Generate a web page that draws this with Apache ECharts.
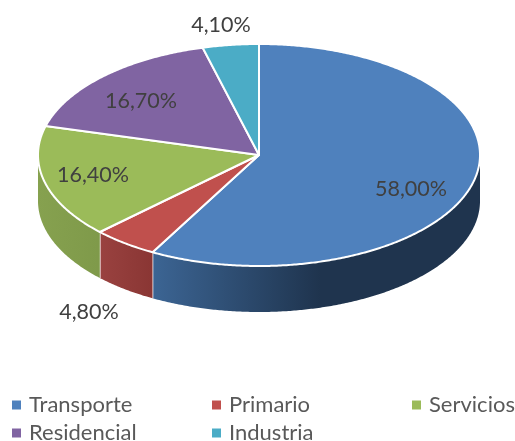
<!DOCTYPE html>
<html lang="es">
<head>
<meta charset="UTF-8">
<title>Consumo por sector</title>
<script src="https://cdn.jsdelivr.net/npm/echarts@6/dist/echarts.min.js"></script>
<style>
	html,body{margin:0;padding:0;width:100%;height:100%;background:#fff;}
	#chart{width:515px;height:441px;}
</style>
</head>
<body>
<div id="chart"></div>
<script>
	var categories = ['Transporte', 'Primario', 'Servicios', 'Residencial', 'Industria'];
	var shares = [58.0, 4.8, 16.4, 16.7, 4.1];

	var colors = ['#4f81bd', '#c0504d', '#9bbb59', '#8064a2', '#4bacc6'];
	// side wall shading, left colour / right colour
	var wallColors = [
		['#3c6594', '#1f344e', 152, 320],
		['#9a4240', '#8a3634', 98, 152],
		['#86a14f', '#7f9a4a', 38, 98],
		['#5f4a7a', '#5f4a7a', 0, 515],
		['#38819a', '#38819a', 0, 515]
	];
	// hand placed labels, same as the original chart
	var labelAt = [[411, 189], [89, 312], [93, 175], [141, 101], [221, 25]];

	var cx = 259, cy = 155, rx = 221, ry = 111, depth = 46;
	var font = 'Lato, "Open Sans", sans-serif';

	function pointAt(deg, dy) {
		var a = deg * Math.PI / 180;
		return [cx + rx * Math.sin(a), cy - ry * Math.cos(a) + (dy || 0)];
	}

	function arcPoints(from, to, dy) {
		var pts = [];
		var n = Math.max(2, Math.ceil((to - from) * 2));
		for (var i = 0; i <= n; i++) {
			pts.push(pointAt(from + (to - from) * i / n, dy));
		}
		return pts;
	}

	function renderSlice(params, api) {
		var idx = params.seriesIndex;
		var before = 0;
		for (var i = 0; i < idx; i++) before += shares[i];
		var start = before * 3.6;
		var end = start + api.value(0) * 3.6;
		var children = [];

		// only the front half of the rim has a visible wall
		var wallFrom = Math.max(start, 90), wallTo = Math.min(end, 270);
		if (wallTo > wallFrom) {
			var wc = wallColors[idx];
			children.push({
				type: 'polygon',
				shape: {points: arcPoints(wallFrom, wallTo, 0).concat(arcPoints(wallFrom, wallTo, depth).reverse())},
				style: {
					fill: {type: 'linear', x: wc[2], y: 0, x2: wc[3], y2: 0, global: true,
						colorStops: [{offset: 0, color: wc[0]}, {offset: 1, color: wc[1]}]},
					stroke: null
				}
			});
			// white seam between two walls
			if (wallTo < 270) {
				var p = pointAt(wallTo, 0);
				children.push({
					type: 'line',
					shape: {x1: p[0], y1: p[1], x2: p[0], y2: p[1] + depth},
					style: {stroke: '#fff', lineWidth: 1.5}
				});
			}
		}

		children.push({
			type: 'polygon',
			shape: {points: [[cx, cy]].concat(arcPoints(start, end, 0))},
			style: {fill: colors[idx], stroke: '#fff', lineWidth: 2, lineJoin: 'round'}
		});

		children.push({
			type: 'text',
			z2: 10,
			style: {
				x: labelAt[idx][0],
				y: labelAt[idx][1],
				text: api.value(0).toFixed(2).replace('.', ',') + '%',
				fill: '#404040',
				font: '21.5px ' + font,
				align: 'center',
				verticalAlign: 'middle'
			}
		});
		return {type: 'group', children: children};
	}

	var legendLeft = [7, 207, 407];
	var legends = [], series = [];
	for (var i = 0; i < categories.length; i++) {
		legends.push({
			data: [categories[i]],
			left: legendLeft[i % 3],
			top: i < 3 ? 389 : 417,
			icon: 'rect',
			itemWidth: 9,
			itemHeight: 9,
			selectedMode: false,
			textStyle: {color: '#595959', fontFamily: font, fontSize: 22, padding: [0, 0, 3, 3]}
		});
		series.push({
			name: categories[i],
			type: 'custom',
			coordinateSystem: 'none',
			renderItem: renderSlice,
			itemStyle: {color: colors[i]},
			animation: false,
			data: [[shares[i]]]
		});
	}

	var myChart = echarts.init(document.getElementById('chart'));
	myChart.setOption({
		animation: false,
		color: colors,
		legend: legends,
		series: series
	});
</script>
</body>
</html>
